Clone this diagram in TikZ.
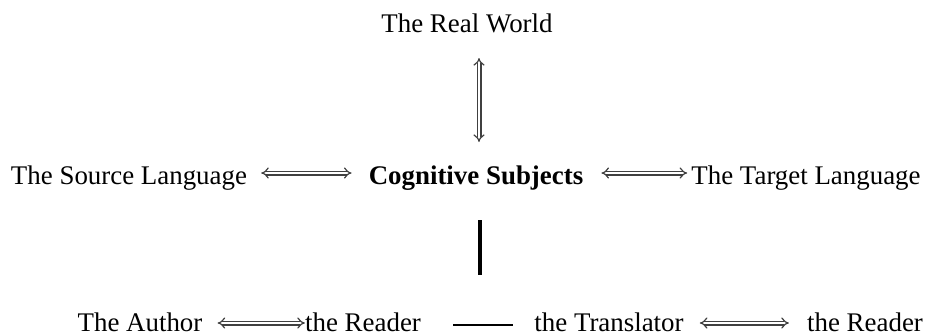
\documentclass[tikz,border=0pt]{standalone}
\usepackage{fontspec}
\setmainfont{Liberation Serif}
\usetikzlibrary{arrows.meta}
\begin{document}
\begin{tikzpicture}[x=1bp,y=-1bp,
  lbl/.style={inner sep=0pt, font=\fontsize{27}{32}\selectfont, anchor=base},
  dbl/.style={draw=black!75, double=white, double distance=2.6bp, line width=1.2bp, {Implies[scale=1.7]}-{Implies[scale=1.7]}},
  bar/.style={draw=black, line width=3.5bp}]
\useasboundingbox (0,0) rectangle (928,335);
\node[lbl] (rw) at (467,32) {The Real World};
\node[lbl] (src) at (129,184) {The Source Language};
\node[lbl, font=\fontsize{27}{32}\selectfont\bfseries] (cog) at (476,184) {Cognitive Subjects};
\node[lbl] (tgt) at (806,184) {The Target Language};
\node[lbl] (au) at (140,331) {The Author};
\node[lbl] (r1) at (363,331) {the Reader};
\node[lbl] (tr) at (609,331) {the Translator};
\node[lbl] (r2) at (865,331) {the Reader};
\coordinate (v1) at (479,58);
\coordinate (v2) at (479,142);
\draw[dbl] (v1) -- (v2);
\draw[dbl] ([xshift=14bp]src.east |- 0,173) -- ([xshift=-17bp]cog.west |- 0,173);
\draw[dbl] ([xshift=18bp]cog.east |- 0,173) -- ([xshift=-4bp]tgt.west |- 0,173);
\coordinate (b1) at (480,220);
\coordinate (b2) at (480,275);
\draw[bar] (b1) -- (b2);
\draw[dbl] ([xshift=15bp]au.east |- 0,323) -- ([xshift=0bp]r1.west |- 0,323);
\coordinate (h1) at (453,325);
\coordinate (h2) at (513,325);
\draw[draw=black, line width=2bp] (h1) -- (h2);
\draw[dbl] ([xshift=16bp]tr.east |- 0,323) -- ([xshift=-18bp]r2.west |- 0,323);
\end{tikzpicture}
\end{document}
